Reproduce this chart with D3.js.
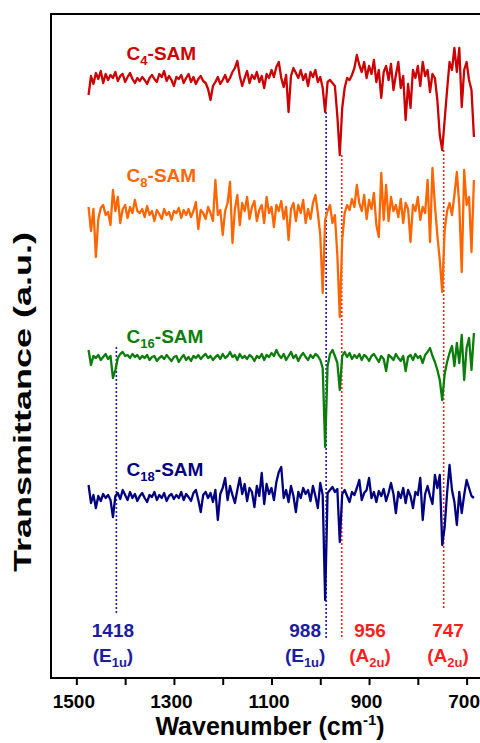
<!DOCTYPE html>
<html>
<head>
<meta charset="utf-8">
<script src="https://cdn.jsdelivr.net/npm/d3@7"></script>
<style>
body { margin: 0; background: #fff; }
text { font-family: Arial, "Liberation Sans", sans-serif; font-weight: bold; }
</style>
</head>
<body>
<div id="plot"></div>
<script>
//DATA - spectra sampled every 5 cm-1 from 1475 down to 685
var wavenumbers = d3.range(1475, 684, -5);

var seriesNames = ['C4', 'C8', 'C16', 'C18'];
var seriesOffsets = [598, 463, 320, 180];   // stacking offset (a.u.)

var c4 = [-15,4,-4,7,1,9,-3,6,0,5, 2,8,-1,4,6,-2,3,7,1,-3, 2,-1,3,0,-4,2,5,1,-2,6, 3,9,-1,4,0,-6,3,1,5,-3,
	2,6,-2,3,-4,1,4,-1,-3,-9, -20,-6,-2,3,-4,0,5,-2,2,8, 12,19,4,-6,2,9,-3,5,1,8, -2,4,-8,6,2,10,3,13,18,2,
	-7,5,-32,4,12,7,2,10,0,6, -6,8,3,10,-2,3,-8,-32,-2,0, -3,-6,-36,-75,-28,-8,2,0,5,12, 25,15,8,18,2,14,6,20,-2,10,
	-18,8,14,0,16,-10,5,18,-8,4, -40,-4,-28,10,2,14,-6,18,4,10, -12,6,2,-20,-55,-70,-40,-10,18,10, 32,8,32,-27,10,18,0,-10,-57];

var c8 = [8,-16,6,-42,-4,7,10,0,3,-10, 25,4,18,-8,6,10,-3,8,2,15, 4,2,6,-2,9,0,4,-6,5,1, -4,6,0,3,-5,4,2,7,-3,5,
	0,6,-2,4,13,-14,5,2,-4,8, 2,-6,35,0,5,-20,4,12,33,-28, 6,20,-10,12,4,18,-4,8,14,-6, 5,10,-8,18,2,8,-12,10,4,14,
	-4,8,-25,6,12,-6,10,2,15,-8, 6,-4,12,20,2,-20,-78,-5,4,10, -8,0,-40,-102,-25,2,10,5,16,8, 30,12,4,20,-4,15,6,22,-10,-22,
	42,-5,30,-6,18,4,10,-2,16,-8, 12,6,-27,10,4,18,-5,8,2,35, -27,47,10,-20,-45,-77,-15,4,12,0, 20,43,10,-57,45,10,18,-37,35];

var c16 = [8,-7,2,0,3,-2,1,4,-1,2, -20,-12,0,4,6,2,3,0,4,1, 3,-1,2,0,3,-2,1,2,-3,0, 2,-1,3,0,-3,1,2,-4,0,3,
	-2,1,-3,2,0,3,-1,2,4,0, 2,-2,1,3,-1,4,0,2,6,1, 3,-2,4,0,2,-1,3,1,-3,2, 0,4,-2,3,1,5,2,8,3,0,
	4,-2,2,6,0,3,-3,2,5,1, -2,3,0,4,2,-2,-10,-89,-8,4, 8,2,-5,-32,2,6,1,5,-1,3, 0,4,-2,3,1,-3,2,4,0,-4,
	2,-1,-13,3,1,-2,4,0,-3,2, -13,1,3,-2,4,0,2,-5,3,6, 10,2,-4,-12,-22,-42,-16,-4,5,12, -8,15,-5,23,-22,10,20,-12,25];

var c18 = [13,-5,3,-10,2,-3,4,0,3,-2, -19,2,5,-1,8,3,-2,6,0,4, -3,2,5,0,-4,3,1,6,-2,3, 0,5,-3,2,4,-1,3,0,6,-2,
	4,1,-3,5,8,-2,-14,3,6,0, 5,-4,8,-22,4,10,20,-2,12,3, -5,8,20,4,14,-3,10,6,-9,12, 2,25,-6,14,4,10,-2,16,26,31,
	0,8,-4,12,2,-14,6,0,10,4, 8,-3,12,2,-10,15,3,-102,5,8, 11,6,9,-44,4,8,2,-4,6,3, 10,18,-2,5,8,20,0,6,-4,7,
	2,9,-3,5,15,4,-15,6,0,10, -5,8,2,-10,6,3,20,-22,4,12, 2,-6,23,10,23,-47,-29,5,33,8, -4,-27,6,-15,3,18,10,2,0];

var seriesValues = [c4, c8, c16, c18];

//peak assignments
var peakWn = [1418, 988, 956, 747];
var peakTop = [331, 566, 523, 528];
var peakBottom = [65, 40, 40, 70];
var peakNames = ['E', 'E', 'A', 'A'];
var peakSubs = ['1u', '1u', '2u', '2u'];
var peakLabelWn = [1425, 1031, 898, 738];

//tick labels
var tickValues = [1500, 1400, 1300, 1200, 1100, 1000, 900, 800, 700];

//colours
var seriesColors = ['#cc0000', '#ff6600', '#0a7d0a', '#000080'];
var blue = '#1c1ca0';
var red = '#ff1f1f';
var peakColors = [blue, blue, red, red];

//SVG
var width = 480, height = 743;
var svg = d3.select('#plot')
	.append('svg')
	.attr('width', width)
	.attr('height', height);

var x = d3.scaleLinear().domain([1552, 650]).range([51, 491]);
var y = d3.scaleLinear().domain([0, 664]).range([678, 14]);

//frame (right side falls outside the picture)
svg.append('rect')
	.attr('x', x(1552))
	.attr('y', y(664))
	.attr('width', x(650) - x(1552))
	.attr('height', y(0) - y(664))
	.style('fill', 'none')
	.style('stroke', '#000')
	.style('stroke-width', '2px');

//x axis
var xAxis = d3.axisBottom(x)
	.tickValues(tickValues)
	.tickSize(7)
	.tickFormat(function(d){ return d % 200 === 100 ? d : ''; });

var gx = svg.append('g')
	.attr('transform', 'translate(0,' + y(0) + ')')
	.call(xAxis);
gx.select('.domain').remove();
gx.selectAll('.tick line').style('stroke', '#000').style('stroke-width', '2px');
gx.selectAll('.tick text')
	.attr('y', 17)
	.attr('dx', -3)
	.style('font-size', '19px')
	.style('fill', '#000');

//axis titles
var xt = svg.append('text')
	.attr('x', 270)
	.attr('y', 735)
	.attr('text-anchor', 'middle')
	.style('font-size', '25px')
	.text('Wavenumber (cm');
xt.append('tspan').attr('dy', -10).style('font-size', '15px').text('-1');
xt.append('tspan').attr('dy', 10).text(')');

svg.append('text')
	.attr('transform', 'translate(31,402) rotate(-90)')
	.attr('text-anchor', 'middle')
	.attr('textLength', 340)
	.attr('lengthAdjust', 'spacingAndGlyphs')
	.style('font-size', '24px')
	.text('Transmittance (a.u.)');

//dotted peak lines
peakWn.forEach(function(w, k){
	svg.append('line')
		.attr('x1', x(w)).attr('x2', x(w))
		.attr('y1', y(peakTop[k])).attr('y2', y(peakBottom[k]))
		.style('stroke', peakColors[k])
		.style('stroke-width', '1.6px')
		.style('stroke-dasharray', '2,2');
});

//spectra
var line = d3.line()
	.x(function(d, i){ return x(wavenumbers[i]); })
	.y(function(d){ return y(d); });

seriesValues.forEach(function(vals, k){
	svg.append('path')
		.datum(vals.map(function(v){ return seriesOffsets[k] + v; }))
		.attr('d', line)
		.style('fill', 'none')
		.style('stroke', seriesColors[k])
		.style('stroke-width', '2.3px')
		.style('stroke-linejoin', 'round');
});

//series labels
var labelRise = [20, 33, 15, 22];
seriesNames.forEach(function(name, k){
	var t = svg.append('text')
		.attr('x', x(1397))
		.attr('y', y(seriesOffsets[k] + labelRise[k]))
		.style('font-size', '19px')
		.style('fill', seriesColors[k])
		.text('C');
	t.append('tspan').attr('dy', 5).style('font-size', '13px').text(name.slice(1));
	t.append('tspan').attr('dy', -5).text('-SAM');
});

//peak labels
peakWn.forEach(function(w, k){
	svg.append('text')
		.attr('x', x(peakLabelWn[k]))
		.attr('y', y(41))
		.attr('text-anchor', 'middle')
		.style('font-size', '19px')
		.style('fill', peakColors[k])
		.text(w);
	var t = svg.append('text')
		.attr('x', x(peakLabelWn[k]))
		.attr('y', y(16))
		.attr('text-anchor', 'middle')
		.style('font-size', '19px')
		.style('fill', peakColors[k])
		.text('(' + peakNames[k]);
	t.append('tspan').attr('dy', 5).style('font-size', '13px').text(peakSubs[k]);
	t.append('tspan').attr('dy', -5).text(')');
});
</script>
</body>
</html>
